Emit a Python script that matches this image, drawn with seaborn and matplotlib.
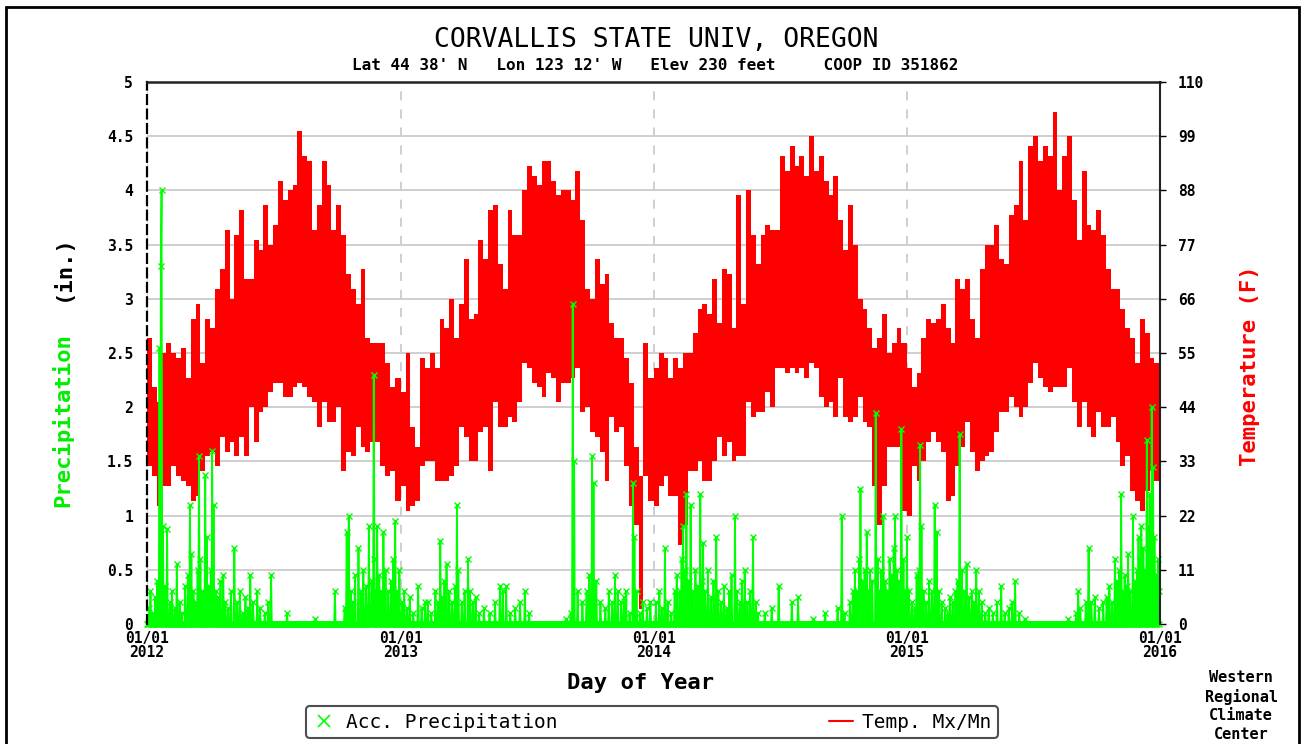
import numpy as np
import pandas as pd
import matplotlib
matplotlib.use("Agg")
import matplotlib.pyplot as plt
import matplotlib.dates as mdates
from matplotlib.lines import Line2D
from matplotlib.patches import Rectangle
import seaborn as sns

# ---- data ----
years = [2012, 2013, 2014, 2015]

# weekly max / min temperature (F), 52 blocks per year
tmax_2012 = [58, 48, 45, 55, 57, 55, 54, 56, 50, 62, 65, 53, 62, 60, 68, 72, 80, 66, 79, 84, 70, 70, 78, 76, 85, 77,
             81, 90, 86, 88, 89, 100, 95, 94, 80, 85, 94, 89, 80, 85, 79, 71, 68, 65, 72, 58, 57, 57, 57, 53, 48, 50]
tmin_2012 = [32, 30, 24, 28, 28, 32, 30, 29, 28, 25, 26, 31, 34, 35, 32, 38, 35, 37, 34, 38, 34, 44, 37, 43, 44, 47,
             49, 49, 46, 46, 48, 49, 48, 46, 45, 40, 45, 41, 41, 44, 31, 35, 34, 40, 36, 35, 37, 37, 32, 30, 31, 25]
tmax_2013 = [47, 55, 40, 36, 54, 52, 55, 52, 62, 60, 66, 58, 65, 74, 62, 63, 78, 74, 84, 85, 73, 68, 84, 79, 79, 88,
             93, 91, 89, 94, 94, 90, 87, 88, 88, 86, 92, 82, 68, 66, 74, 69, 71, 61, 58, 58, 54, 49, 36, 30, 57, 50]
tmin_2013 = [28, 23, 24, 25, 32, 33, 33, 29, 29, 29, 30, 32, 40, 38, 33, 33, 39, 40, 31, 45, 40, 40, 42, 41, 45, 53,
             52, 49, 48, 46, 51, 50, 45, 49, 49, 50, 52, 43, 44, 39, 38, 35, 29, 42, 39, 40, 32, 24, 20, 3, 30, 25]
tmax_2014 = [52, 55, 54, 50, 54, 52, 55, 55, 59, 64, 65, 63, 70, 61, 72, 71, 60, 87, 65, 88, 79, 73, 79, 81, 80, 80,
             95, 92, 97, 93, 95, 91, 99, 92, 95, 90, 87, 91, 82, 76, 85, 77, 66, 64, 60, 56, 58, 63, 55, 57, 60, 57]
tmin_2014 = [24, 28, 30, 26, 26, 16, 20, 31, 31, 33, 29, 29, 33, 38, 34, 37, 33, 34, 34, 45, 42, 43, 43, 47, 44, 52,
             52, 51, 52, 51, 52, 50, 53, 52, 46, 44, 45, 42, 50, 42, 41, 42, 46, 41, 40, 28, 20, 28, 36, 36, 36, 23]
tmax_2015 = [52, 48, 51, 58, 62, 61, 62, 65, 60, 57, 70, 68, 70, 62, 58, 72, 77, 77, 81, 74, 73, 83, 85, 94, 82, 97,
             99, 94, 97, 95, 104, 88, 95, 99, 86, 78, 92, 81, 80, 84, 79, 72, 68, 68, 64, 60, 58, 53, 62, 59, 54, 53]
tmin_2015 = [22, 32, 29, 33, 37, 39, 37, 35, 25, 26, 32, 36, 41, 35, 31, 33, 34, 35, 39, 43, 43, 46, 44, 42, 44, 49,
             53, 50, 48, 47, 48, 48, 48, 52, 45, 40, 45, 40, 38, 43, 40, 40, 42, 37, 32, 34, 27, 25, 23, 27, 31, 29]

# daily precipitation (in.) : day of year -> amount, all other days 0
prcp_2012_day = [3, 5, 8, 12, 15, 18, 20, 21, 23, 26, 29, 33, 36, 40, 43, 47, 50, 55, 59, 62, 64, 67, 70, 73, 75, 77,
                 80, 84, 86, 89, 92, 94, 96, 99, 103, 106, 110, 113, 117, 121, 126, 130, 134, 138, 142, 146, 149, 153,
                 159, 163, 170, 175, 179, 202, 243, 271, 285, 288, 291, 294, 297, 300, 305, 309, 312, 316, 320, 324,
                 327, 328, 330, 332, 335, 338, 341, 344, 348, 352, 355, 358, 361, 364]
prcp_2012_val = [0.15, 0.3, 0.1, 0.25, 0.4, 2.55, 3.3, 4.0, 0.9, 0.35, 0.88, 0.2, 0.3, 0.15, 0.55, 0.2, 0.1, 0.35,
                 0.45, 1.1, 0.65, 0.3, 0.2, 0.5, 1.55, 0.6, 0.3, 1.37, 0.8, 0.35, 0.5, 1.6, 1.1, 0.3, 0.25, 0.4, 0.45,
                 0.2, 0.15, 0.3, 0.7, 0.2, 0.3, 0.1, 0.25, 0.15, 0.45, 0.2, 0.3, 0.15, 0.1, 0.2, 0.45, 0.1, 0.05, 0.3,
                 0.15, 0.85, 1.0, 0.3, 0.2, 0.45, 0.7, 0.3, 0.5, 0.35, 0.9, 0.4, 2.3, 0.6, 0.3, 0.9, 0.45, 0.3, 0.85,
                 0.5, 0.3, 0.4, 0.6, 0.95, 0.3, 0.5]
prcp_2013_day = [2, 5, 9, 13, 18, 25, 30, 35, 39, 44, 50, 54, 57, 60, 63, 66, 70, 74, 78, 81, 83, 88, 92, 97, 100,
                 104, 108, 113, 120, 128, 136, 143, 147, 152, 158, 165, 172, 179, 185, 239, 245, 248, 250, 255, 262,
                 268, 272, 276, 278, 282, 288, 295, 300, 305, 309, 313, 318, 322, 325, 330, 335, 337, 340, 345, 349,
                 355, 360]
prcp_2013_val = [0.2, 0.3, 0.15, 0.25, 0.1, 0.35, 0.15, 0.2, 0.2, 0.1, 0.3, 0.2, 0.77, 0.25, 0.4, 0.55, 0.3, 0.2,
                 0.35, 1.1, 0.5, 0.2, 0.3, 0.6, 0.3, 0.2, 0.25, 0.1, 0.15, 0.1, 0.2, 0.35, 0.3, 0.35, 0.1, 0.15, 0.2,
                 0.3, 0.1, 0.05, 0.1, 2.95, 1.5, 0.3, 0.2, 0.3, 0.45, 1.55, 1.3, 0.4, 0.2, 0.15, 0.3, 0.2, 0.45, 0.3,
                 0.2, 0.25, 0.3, 0.1, 1.3, 0.8, 0.3, 0.1, 0.2, 0.15, 0.2]
prcp_2014_day = [3, 8, 12, 16, 20, 25, 30, 33, 37, 40, 42, 45, 47, 50, 53, 56, 60, 63, 67, 69, 71, 74, 78, 82, 86,
                 90, 93, 97, 101, 105, 109, 112, 117, 120, 124, 127, 131, 135, 139, 143, 147, 150, 160, 170, 180, 199,
                 208, 230, 247, 265, 271, 275, 283, 287, 290, 293, 296, 298, 301, 304, 307, 310, 312, 315, 320, 323,
                 326, 328, 331, 334, 337, 340, 343, 346, 348, 351, 354, 357, 360, 363]
prcp_2014_val = [0.2, 0.3, 0.15, 0.7, 0.2, 0.1, 0.3, 0.45, 0.3, 0.6, 0.9, 0.5, 1.2, 0.4, 1.1, 0.3, 0.5, 0.35, 1.2,
                 0.4, 0.75, 0.3, 0.5, 0.25, 0.4, 0.8, 0.3, 0.2, 0.35, 0.15, 0.3, 0.45, 1.0, 0.3, 0.2, 0.4, 0.5, 0.2,
                 0.3, 0.8, 0.2, 0.1, 0.1, 0.15, 0.35, 0.2, 0.25, 0.05, 0.1, 0.15, 1.0, 0.1, 0.2, 0.3, 0.5, 0.3, 0.6,
                 1.25, 0.4, 0.5, 0.85, 0.3, 0.5, 0.4, 1.95, 0.6, 0.3, 0.5, 1.0, 0.4, 0.3, 0.6, 0.45, 0.7, 1.0, 0.5,
                 0.4, 1.8, 0.6, 0.3]
prcp_2015_day = [0, 3, 7, 11, 14, 17, 19, 21, 24, 28, 32, 36, 40, 43, 46, 50, 55, 59, 62, 66, 70, 73, 76, 79, 83,
                 86, 90, 94, 97, 100, 104, 108, 113, 118, 124, 130, 136, 141, 147, 152, 156, 162, 170, 233, 244, 247,
                 250, 258, 262, 266, 271, 277, 283, 288, 292, 296, 300, 303, 306, 309, 312, 314, 317, 319, 322, 326,
                 329, 332, 334, 336, 338, 341, 343, 346, 348, 350, 353, 355, 357, 360, 362, 364]
prcp_2015_val = [0.8, 0.3, 0.2, 0.15, 0.45, 0.5, 1.65, 0.9, 0.3, 0.2, 0.4, 0.3, 1.1, 0.85, 0.3, 0.2, 0.15, 0.1,
                 0.25, 0.2, 0.3, 0.4, 1.75, 0.5, 0.3, 0.55, 0.25, 0.3, 0.2, 0.5, 0.3, 0.2, 0.1, 0.15, 0.1, 0.2, 0.35,
                 0.1, 0.15, 0.2, 0.4, 0.1, 0.05, 0.05, 0.1, 0.3, 0.15, 0.2, 0.7, 0.2, 0.25, 0.15, 0.2, 0.25, 0.35,
                 0.2, 0.6, 0.4, 0.5, 1.2, 0.3, 0.45, 0.35, 0.65, 0.3, 1.0, 0.4, 0.5, 0.8, 0.6, 0.9, 0.7, 0.5, 1.7,
                 0.9, 1.2, 2.0, 1.45, 0.8, 0.45, 0.6, 0.3]

year_labels = ["01/01\n2012", "01/01\n2013", "01/01\n2014", "01/01\n2015", "01/01\n2016"]
prcp_ticks = [0, 0.5, 1, 1.5, 2, 2.5, 3, 3.5, 4, 4.5, 5]
temp_ticks = [0, 11, 22, 33, 44, 55, 66, 77, 88, 99, 110]

# ---- build frames ----
tmax = {2012: tmax_2012, 2013: tmax_2013, 2014: tmax_2014, 2015: tmax_2015}
tmin = {2012: tmin_2012, 2013: tmin_2013, 2014: tmin_2014, 2015: tmin_2015}
starts = []
for y in years:
    starts += list(pd.date_range(f"{y}-01-01", periods=52, freq="7D"))
edges = mdates.date2num(starts + [pd.Timestamp("2016-01-01")])
temp = pd.DataFrame({
    "x": edges[:-1],
    "width": np.diff(edges),
    "hi": sum((tmax[y] for y in years), []),
    "lo": sum((tmin[y] for y in years), []),
})

days = pd.date_range("2012-01-01", "2015-12-31", freq="D")
prcp = pd.Series(0.0, index=days)
events = {2012: (prcp_2012_day, prcp_2012_val), 2013: (prcp_2013_day, prcp_2013_val),
          2014: (prcp_2014_day, prcp_2014_val), 2015: (prcp_2015_day, prcp_2015_val)}
for y, (dd, vv) in events.items():
    for d, v in zip(dd, vv):
        prcp.iloc[(pd.Timestamp(f"{y}-01-01") - days[0]).days + d] = v
prcp_df = pd.DataFrame({"x": mdates.date2num(days), "p": prcp.values})

# ---- plot ----
sns.set_theme(style="white")
plt.rcParams["font.family"] = ["DejaVu Sans Mono"]
plt.rcParams.update({"text.color": "black", "xtick.color": "black", "ytick.color": "black",
                     "axes.labelcolor": "black"})

W, H = 1306, 744
fig = plt.figure(figsize=(W / 100, H / 100), dpi=100)
ax_t = fig.add_axes([147 / W, 1 - 624 / H, (1160 - 147) / W, (624 - 82) / H])
ax_p = ax_t.twinx()

# temperature (background axes, labels on the right)
ax_t.set_axisbelow(True)
ax_t.bar(temp["x"], temp["hi"] - temp["lo"], bottom=temp["lo"], width=temp["width"],
         align="edge", color="#ff0000", linewidth=0)
ax_t.set_ylim(0, 110)
ax_t.set_yticks(temp_ticks)
ax_t.yaxis.tick_right()
ax_t.yaxis.grid(True, color="#cccccc", linewidth=1.3)
ax_t.xaxis.grid(True, color="#cccccc", linewidth=1.3, linestyle=(0, (5, 5)))
ax_t.tick_params(axis="y", which="both", right=True, left=False, length=4, width=1,
                 color="black", pad=9, labelsize=10.5)
ax_t.set_xlim(edges[0], edges[-1])
ax_t.set_xticks(mdates.date2num([pd.Timestamp(f"{y}-01-01") for y in range(2012, 2017)]))
ax_t.set_xticklabels(year_labels, fontweight="bold", fontsize=10.5, linespacing=0.95)
ax_t.tick_params(axis="x", length=0, pad=5)
for lbl in ax_t.get_yticklabels():
    lbl.set_fontweight("bold")
for s in ax_t.spines.values():
    s.set_visible(False)

# precipitation (top axes, labels on the left)
sns.lineplot(data=prcp_df, x="x", y="p", ax=ax_p, color="#00ff00", linewidth=1.3,
             marker="x", markersize=4, markeredgewidth=1, markeredgecolor="#00ff00",
             estimator=None, sort=False, clip_on=False)
ax_p.set_ylim(0, 5)
ax_p.set_xlim(edges[0], edges[-1])
ax_p.set_yticks(prcp_ticks)
ax_p.set_yticklabels([f"{t:g}" for t in prcp_ticks], fontweight="bold", fontsize=10.5)
ax_p.yaxis.tick_left()
ax_p.tick_params(axis="y", length=0, pad=10)
ax_p.set_xlabel("")
ax_p.set_ylabel("")
ax_t.set_ylabel("")
ax_p.spines["left"].set_visible(True)
ax_p.spines["left"].set_color("black")
ax_p.spines["left"].set_linewidth(1.6)
ax_p.spines["left"].set_linestyle((0, (4, 2.5)))
ax_p.spines["top"].set_color("#222222")
ax_p.spines["top"].set_linewidth(1.8)
ax_p.spines["right"].set_color("#222222")
ax_p.spines["right"].set_linewidth(1.5)
ax_p.spines["bottom"].set_visible(False)

# texts
fig.text(656 / W, 1 - 40 / H, "CORVALLIS STATE UNIV, OREGON", ha="center", va="center", fontsize=19)
fig.text(655 / W, 1 - 65 / H, "Lat 44 38' N   Lon 123 12' W   Elev 230 feet     COOP ID 351862",
         ha="center", va="center", fontsize=11.5, fontweight="bold")
fig.text(641 / W, 1 - 683 / H, "Day of Year", ha="center", va="center", fontsize=16, fontweight="bold")
fig.text(62 / W, 1 - 420 / H, "Precipitation", ha="center", va="center", rotation=90,
         fontsize=16, fontweight="bold", color="#00ee00")
fig.text(62 / W, 1 - 268 / H, "(in.)", ha="center", va="center", rotation=90,
         fontsize=16, fontweight="bold", color="black")
fig.text(1250 / W, 1 - 366 / H, "Temperature (F)", ha="center", va="center", rotation=90,
         fontsize=16, fontweight="bold", color="#ff0000")
fig.text(1241 / W, 1 - 706 / H, "Western\nRegional\nClimate\nCenter", ha="center", va="center",
         fontsize=11, fontweight="bold", linespacing=1.3)

# legend
handles = [Line2D([], [], color="#00ff00", marker="x", linestyle="none", markersize=8, markeredgewidth=1.2),
           Line2D([], [], color="#ff0000", linewidth=1.5)]
leg = fig.legend(handles, ["Acc. Precipitation", "Temp. Mx/Mn"], loc="center",
                 bbox_to_anchor=(652 / W, 1 - 722 / H), ncol=2, columnspacing=14.0,
                 handlelength=1.2, handletextpad=0.5, borderpad=0.35, fancybox=True,
                 frameon=True, prop={"family": "DejaVu Sans Mono", "size": 14})
leg.get_frame().set_edgecolor("#222222")
leg.get_frame().set_linewidth(1.5)
leg.get_frame().set_facecolor("white")

# outer frame
fig.patches.append(Rectangle((6 / W, -0.05), (1299 - 6) / W, 1.05 - 7 / H, transform=fig.transFigure,
                             fill=False, edgecolor="black", linewidth=2))

fig.savefig("out.png", dpi=100, facecolor="white")
